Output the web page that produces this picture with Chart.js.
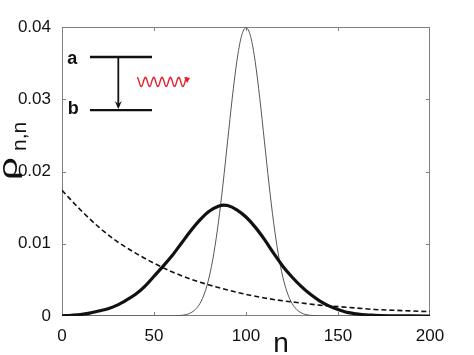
<!DOCTYPE html>
<html><head><meta charset="utf-8">
<script src="https://cdn.jsdelivr.net/npm/chart.js@4.4.0/dist/chart.umd.min.js"></script>
<style>html,body{margin:0;padding:0;background:#fff;overflow:hidden}#wrap{width:474px;height:355px}</style>
</head><body><div id="wrap"><canvas id="c" width="474" height="355"></canvas></div>
<script>
// ---- data ----
const xTicks = [0, 50, 100, 150, 200];
const yTicks = [0, 0.01, 0.02, 0.03, 0.04];
const yTickLabels = ['0', '0.01', '0.02', '0.03', '0.04'];

const thinN = [0,50,60,65,67.5,70,72.5,75,77.5,80,82.5,85,87.5,90,92.5,95,97.5,100,102.5,105,107.5,110,112.5,115,117.5,120,122.5,125,127.5,130,132.5,135,140,150,200];
const thinRho = [0,0,0.00001,0.00009,0.0002,0.00044,0.00091,0.00175,0.00318,0.0054,0.00864,0.01296,0.01827,0.0242,0.0301,0.0352,0.0387,0.0399,0.0387,0.0352,0.0301,0.0242,0.01827,0.01296,0.00864,0.0054,0.00318,0.00175,0.00091,0.00044,0.0002,0.00009,0.00001,0,0];

const thickN = [0,5,10,15,20,25,30,35,40,45,50,55,60,65,70,75,80,85,88,90,95,100,105,110,115,120,125,130,135,140,145,150,155,160,165,170,180,190,200];
const thickRho = [0.00003,0.0001,0.0002,0.0004,0.0007,0.0010,0.0015,0.0022,0.0030,0.0041,0.0055,0.0069,0.0084,0.0101,0.0118,0.0133,0.0145,0.0152,0.01535,0.0153,0.0147,0.0137,0.0123,0.0106,0.0087,0.0069,0.0054,0.0041,0.0030,0.0021,0.0014,0.0009,0.0005,0.0003,0.00015,0.0001,0.00003,0.00001,0];

const dashN = [0,10,20,30,40,50,60,70,80,90,100,110,120,130,140,150,160,170,180,190,200];
const dashRho = [0.0174,0.0147,0.0123,0.0103,0.0087,0.0073,0.0061,0.0051,0.0043,0.0036,0.0030,0.0025,0.0021,0.0018,0.0015,0.0013,0.0011,0.0009,0.0008,0.0007,0.0006];

// inset (energy levels) in data units
const levelLabels = ['a', 'b'];
const levelRho = [0.03585, 0.0285];
const levelN = [15.2, 48.9];
const labelN = 5.6;
const arrowN = 30.6;
const waveN = [40.8, 69.6];
const waveRho = 0.0324;

const xTitle = 'n';
const yTitleMain = 'ρ';
const yTitleSub = 'n,n';

const toXY = (xs, ys) => xs.map((v, i) => ({x: v, y: ys[i]}));
const FONT = '"Liberation Sans", Arial, sans-serif';

const framePlugin = {
  id: 'frame',
  beforeDatasetsDraw(chart) {
    const {ctx, chartArea: a, scales: {x, y}} = chart;
    ctx.save();
    ctx.strokeStyle = '#808080';
    ctx.lineWidth = 1;
    ctx.strokeRect(a.left + 0.5, a.top + 0.5, a.right - a.left - 1, a.bottom - a.top - 1);
    ctx.beginPath();
    xTicks.slice(1, -1).forEach(v => {
      const p = Math.round(x.getPixelForValue(v)) + 0.5;
      ctx.moveTo(p, a.bottom); ctx.lineTo(p, a.bottom - 4);
      ctx.moveTo(p, a.top); ctx.lineTo(p, a.top + 4);
    });
    yTicks.slice(1, -1).forEach(v => {
      const p = Math.round(y.getPixelForValue(v)) + 0.5;
      ctx.moveTo(a.left, p); ctx.lineTo(a.left + 4, p);
      ctx.moveTo(a.right, p); ctx.lineTo(a.right - 4, p);
    });
    ctx.stroke();
    ctx.restore();
  },
  afterDraw(chart) {
    const {ctx, chartArea: a, scales: {x, y}} = chart;
    ctx.save();
    // axis titles
    ctx.fillStyle = '#111';
    ctx.font = '28px ' + FONT;
    ctx.textAlign = 'center';
    ctx.textBaseline = 'alphabetic';
    ctx.fillText(xTitle, 281, 352);
    ctx.save();
    ctx.translate(17, 180);
    ctx.rotate(-Math.PI / 2);
    ctx.textAlign = 'left';
    ctx.save();
    ctx.scale(1.55, 1);
    ctx.font = '26px ' + FONT;
    ctx.fillText(yTitleMain, 0, 0);
    ctx.restore();
    ctx.font = '21px ' + FONT;
    ctx.fillText(yTitleSub, 29, 9);
    ctx.restore();

    // inset: energy levels
    const yA = y.getPixelForValue(levelRho[0]);
    const yB = y.getPixelForValue(levelRho[1]);
    const x1 = x.getPixelForValue(levelN[0]);
    const x2 = x.getPixelForValue(levelN[1]);
    ctx.strokeStyle = '#111';
    ctx.lineWidth = 2.4;
    ctx.beginPath();
    ctx.moveTo(x1, yA); ctx.lineTo(x2, yA);
    ctx.moveTo(x1, yB); ctx.lineTo(x2, yB);
    ctx.stroke();
    const xa = x.getPixelForValue(arrowN);
    ctx.lineWidth = 1.8;
    ctx.beginPath();
    ctx.moveTo(xa, yA); ctx.lineTo(xa, yB - 3);
    ctx.stroke();
    ctx.fillStyle = '#111';
    ctx.beginPath();
    ctx.moveTo(xa, yB - 1);
    ctx.lineTo(xa - 3.5, yB - 9);
    ctx.lineTo(xa, yB - 6);
    ctx.lineTo(xa + 3.5, yB - 9);
    ctx.closePath();
    ctx.fill();
    ctx.font = 'bold 18px ' + FONT;
    ctx.textAlign = 'center';
    ctx.textBaseline = 'middle';
    const lx = x.getPixelForValue(labelN);
    ctx.fillText(levelLabels[0], lx, yA + 2);
    ctx.fillText(levelLabels[1], lx + 1, yB - 1);

    // red wavy photon
    const w1 = x.getPixelForValue(waveN[0]);
    const w2 = x.getPixelForValue(waveN[1]);
    const wy = y.getPixelForValue(waveRho);
    ctx.strokeStyle = '#e3202c';
    ctx.lineWidth = 1.4;
    ctx.beginPath();
    const periods = 6, amp = 4.5;
    for (let i = 0; i <= 120; i++) {
      const t = i / 120;
      const px = w1 + (w2 - w1 - 3) * t;
      const py = wy + amp * Math.sin(t * periods * 2 * Math.PI - Math.PI/2) ;
      if (i === 0) ctx.moveTo(px, py); else ctx.lineTo(px, py);
    }
    ctx.stroke();
    ctx.fillStyle = '#e3202c';
    ctx.beginPath();
    ctx.moveTo(w2, wy - 4);
    ctx.lineTo(w2 - 6, wy - 5);
    ctx.lineTo(w2 - 3, wy + 1);
    ctx.closePath();
    ctx.fill();
    ctx.restore();
  }
};

new Chart(document.getElementById('c'), {
  type: 'line',
  data: {
    datasets: [
      {data: toXY(dashN, dashRho), borderColor: '#111', borderWidth: 1.6, borderDash: [5, 3], pointRadius: 0, cubicInterpolationMode: 'monotone', fill: false},
      {data: toXY(thickN, thickRho), borderColor: '#111', borderWidth: 3.2, pointRadius: 0, cubicInterpolationMode: 'monotone', fill: false},
      {data: toXY(thinN, thinRho), borderColor: '#555', borderWidth: 1, pointRadius: 0, cubicInterpolationMode: 'monotone', fill: false}
    ]
  },
  options: {
    responsive: false,
    animation: false,
    devicePixelRatio: 1,
    layout: {padding: {top: 27, right: 44, left: 0, bottom: 0}},
    plugins: {legend: {display: false}, tooltip: {enabled: false}},
    scales: {
      x: {
        type: 'linear', min: 0, max: 200,
        grid: {display: false}, border: {display: false},
        afterBuildTicks: s => { s.ticks = xTicks.map(v => ({value: v})); },
        ticks: {font: {size: 17, family: FONT}, color: '#111', padding: 2, maxRotation: 0, autoSkip: false},
        afterFit: s => { s.height = 39; }
      },
      y: {
        type: 'linear', min: 0, max: 0.04,
        grid: {display: false}, border: {display: false},
        afterBuildTicks: s => { s.ticks = yTicks.map(v => ({value: v})); },
        ticks: {font: {size: 17, family: FONT}, color: '#111', padding: 3, autoSkip: false,
          callback: (v, i) => yTickLabels[i]},
        afterFit: s => { s.width = 62; }
      }
    }
  },
  plugins: [framePlugin]
});
</script>
</body></html>
